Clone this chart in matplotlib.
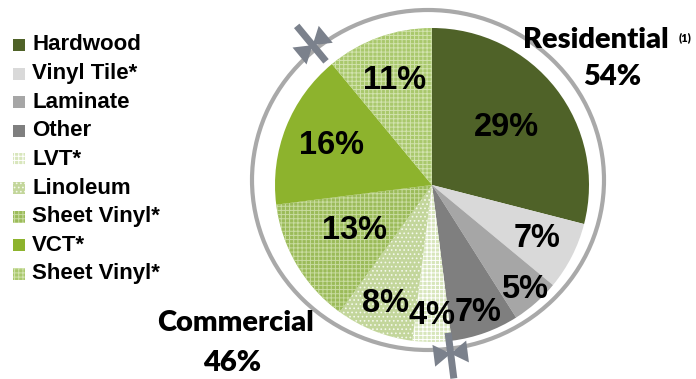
import numpy as np
import matplotlib
matplotlib.use('Agg')
import matplotlib.pyplot as plt
from matplotlib.patches import Rectangle, Ellipse, Polygon

plt.rcParams['hatch.linewidth'] = 0.7

# flooring share by material, clockwise from 12 o'clock
materials = ['Hardwood', 'Vinyl Tile*', 'Laminate', 'Other', 'LVT*',
             'Linoleum', 'Sheet Vinyl*', 'VCT*', 'Sheet Vinyl*']
shares = [29, 7, 5, 7, 4, 8, 13, 16, 11]
face_colors = ['#4f6228', '#d9d9d9', '#a6a6a6', '#7f7f7f', '#d8e6bc',
               '#c3d69b', '#9bbb59', '#8db32d', '#a9c86c']
hatch_colors = [None, None, None, None, '#ffffff',
                '#f4f8ec', '#c9dca0', None, '#d2e3ae']
hatches = [None, None, None, None, '++++', '....', '++++', None, '++++']
# radial position of each percentage label, as a fraction of the radius
label_frac = [0.60, 0.75, 0.89, 0.86, 0.83, 0.81, 0.57, 0.69, 0.71]

segments = ['Residential', 'Commercial']
segment_pct = [54, 46]

fig = plt.figure(figsize=(6.96, 3.79), dpi=100)
ax = fig.add_axes([0, 0, 1, 1])

cx, cy, r = 432, 185, 157
wedges, _ = ax.pie(shares, colors=face_colors, startangle=270, counterclock=True,
                   center=(cx, cy), radius=r, frame=True,
                   wedgeprops=dict(linewidth=0))
ax.set_xlim(0, 696)
ax.set_ylim(379, 0)
ax.axis('off')

for w, hc, h in zip(wedges, hatch_colors, hatches):
    if h:
        w.set_edgecolor(hc)
        w.set_hatch(h)
        w.set_linewidth(0)

for w, val, frac in zip(wedges, shares, label_frac):
    mid = np.deg2rad((w.theta1 + w.theta2) / 2)
    x = cx + frac * r * np.cos(mid)
    y = cy + frac * r * np.sin(mid)
    ax.text(x, y, '%d%%' % val, ha='center', va='center', fontsize=23.5,
            fontweight='bold', family='Liberation Sans', color='black')

# outer ring split between residential and commercial
rcx, rcy, rw, rh = 428, 180, 176, 170
ax.add_patch(Ellipse((rcx, rcy), 2 * rw, 2 * rh, fill=False,
                     edgecolor='#a9a9a9', linewidth=3))

for ang in [wedges[3].theta2, wedges[8].theta1]:
    t = np.deg2rad(ang)
    px, py = rcx + rw * np.cos(t), rcy + rh * np.sin(t)
    u = np.array([np.cos(t), np.sin(t)])
    v = np.array([-np.sin(t), np.cos(t)])
    c = np.array([px, py]) + 5 * u
    bar = [c - 21 * u - 3.5 * v, c + 25 * u - 3.5 * v,
           c + 25 * u + 3.5 * v, c - 21 * u + 3.5 * v]
    ax.add_patch(Polygon(bar, closed=True, color='#7b818c', linewidth=0))
    for s in (-1, 1):
        tri = [c, c + s * 17 * v + 11 * u, c + s * 17 * v - 11 * u]
        ax.add_patch(Polygon(tri, closed=True, color='#7b818c', linewidth=0))

# legend
for i, (name, fc, hc, h) in enumerate(zip(materials, face_colors, hatch_colors, hatches)):
    y = 45 + i * 28.6
    sq = Rectangle((13, y - 6), 12, 12, facecolor=fc, edgecolor=hc if h else fc,
                   hatch=h, linewidth=0)
    ax.add_patch(sq)
    ax.text(32, y, name, ha='left', va='center', fontsize=16,
            fontweight='bold', family='Liberation Sans')

ax.text(596, 40, segments[0], ha='center', va='center', fontsize=21,
        fontweight='heavy', family='Lato')
ax.text(685, 38, '(1)', ha='center', va='center', fontsize=8,
        fontweight='heavy', family='Lato')
ax.text(612, 77, '%d%%' % segment_pct[0], ha='center', va='center', fontsize=21,
        fontweight='heavy', family='Lato')
ax.text(235, 323, segments[1], ha='center', va='center', fontsize=21,
        fontweight='heavy', family='Lato')
ax.text(232, 363, '%d%%' % segment_pct[1], ha='center', va='center', fontsize=21,
        fontweight='heavy', family='Lato')

fig.savefig('out.png', dpi=100)
